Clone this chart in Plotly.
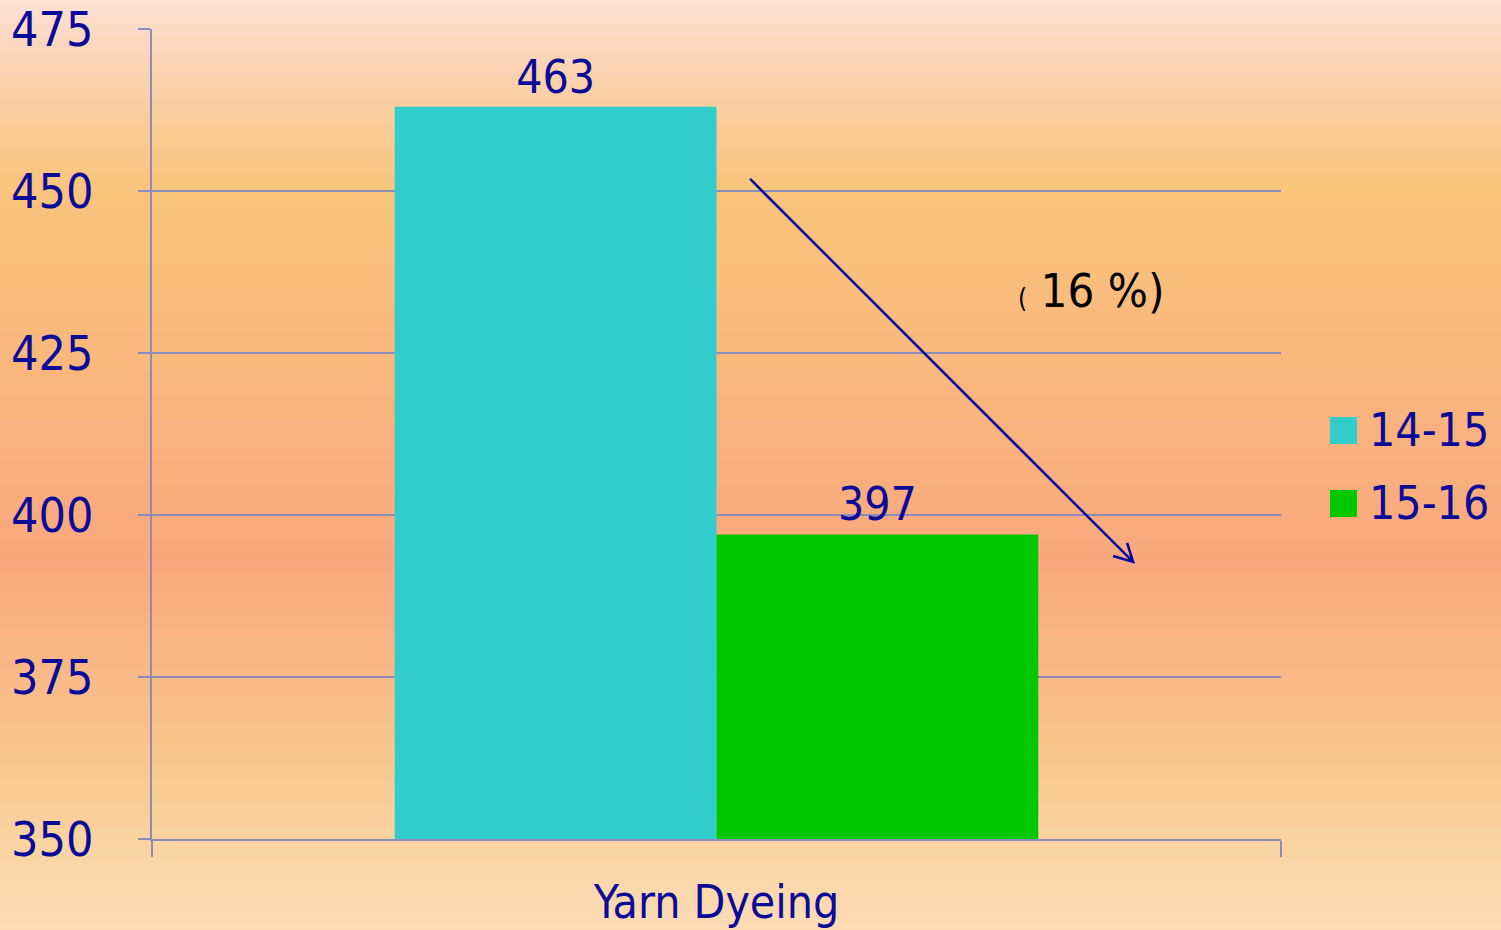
import plotly.graph_objects as go

# data
category = ['Yarn Dyeing']
series_names = ['14-15', '15-16']
values_1415 = [463]
values_1516 = [397]
change_label = '16 %'
y_ticks = [350, 375, 400, 425, 450, 475]

NAVY = '#0b0b99'
AXIS = '#8c8cba'
FONT = 'DejaVu Sans Condensed, DejaVu Sans, sans-serif'
bar_colors = ['#33cccc', '#00c800']

W, H = 1501, 930
L, R, T, B = 152, 220, 29, 91
pw, ph = W - L - R, H - T - B

fig = go.Figure()
for name, vals, col in zip(series_names, [values_1415, values_1516], bar_colors):
    fig.add_trace(go.Bar(
        x=category, y=vals, name=name,
        marker=dict(color=col, line=dict(width=0)),
        text=vals, textposition='outside', cliponaxis=False,
        textfont=dict(family=FONT, size=46, color=NAVY),
        showlegend=False,
    ))

# background gradient built from horizontal bands (pixel rows -> paper coords)
stops = [
    (0.00, (253, 225, 213)),
    (0.05, (252, 214, 188)),
    (0.20, (249, 196, 124)),
    (0.35, (249, 186, 124)),
    (0.60, (249, 168, 126)),
    (0.82, (249, 198, 142)),
    (0.90, (250, 211, 160)),
    (1.00, (252, 219, 182)),
]


def grad(f):
    for (f0, c0), (f1, c1) in zip(stops, stops[1:]):
        if f <= f1:
            t = (f - f0) / (f1 - f0)
            return 'rgb(%d,%d,%d)' % tuple(round(a + (b - a) * t) for a, b in zip(c0, c1))
    return 'rgb(%d,%d,%d)' % stops[-1][1]


shapes = []
band = 6
for py in range(0, H, band):
    y_top = (H - B - py) / ph
    y_bot = (H - B - py - band - 1) / ph
    shapes.append(dict(
        type='rect', xref='paper', yref='paper', layer='below',
        x0=-L / pw, x1=(W - L) / pw, y0=y_bot, y1=y_top,
        fillcolor=grad((py + band / 2) / H), line=dict(width=0),
    ))

# decline arrow (pixel offsets from the arrow tip)
shapes.append(dict(
    type='path', xref='x', yref='y', xsizemode='pixel', ysizemode='pixel',
    xanchor=0.369, yanchor=392.75,
    path='M-383,383 L0,0 M-6,19 L0,0 L-20,6',
    line=dict(color='#0000a0', width=2.5),
))

# manual legend
legend_rows = [(417, 444, 430), (490, 517, 503)]
annotations = []
for (top, bot, mid), name, col in zip(legend_rows, series_names, bar_colors):
    shapes.append(dict(
        type='rect', xref='paper', yref='paper',
        x0=(1330 - L) / pw, x1=(1357 - L) / pw,
        y0=(H - B - bot) / ph, y1=(H - B - top) / ph,
        fillcolor=col, line=dict(width=0),
    ))
    annotations.append(dict(
        xref='paper', yref='paper', x=(1367 - L) / pw, y=(H - B - mid) / ph,
        xanchor='left', yanchor='middle', showarrow=False, text=name,
        font=dict(family=FONT, size=46, color=NAVY),
    ))

annotations.append(dict(
    xref='paper', yref='paper', x=(1016 - L) / pw, y=(H - B - 291) / ph,
    xanchor='left', yanchor='middle', showarrow=False,
    text="<span style='font-size:26px'>(</span> " + change_label + ')',
    font=dict(family=FONT, size=47, color='black'),
))

fig.update_layout(
    width=W, height=H,
    margin=dict(l=L, r=R, t=T, b=B, autoexpand=False),
    paper_bgcolor='#fbd2a8',
    plot_bgcolor='rgba(0,0,0,0)',
    barmode='group', bargap=0.43, bargroupgap=0,
    shapes=shapes, annotations=annotations,
    showlegend=False,
    font=dict(family=FONT, color=NAVY),
    xaxis=dict(
        range=[-0.5, 0.5], showline=True, linecolor=AXIS, linewidth=2,
        ticks='outside', tickson='boundaries', ticklen=16, tickwidth=2, tickcolor=AXIS,
        tickfont=dict(family=FONT, size=46, color=NAVY), ticklabelstandoff=22,
        showgrid=False, zeroline=False, automargin=False,
    ),
    yaxis=dict(
        range=[350, 475], tickvals=y_ticks, showline=True, linecolor=AXIS, linewidth=2,
        ticks='outside', ticklen=12, tickwidth=2, tickcolor=AXIS,
        showgrid=True, gridcolor=AXIS, gridwidth=2, zeroline=False,
        tickfont=dict(family=FONT, size=48, color=NAVY), ticklabelstandoff=35,
        automargin=False,
    ),
)

fig.write_html('out.html', config={'displayModeBar': False},
               post_script="document.body.style.margin='0';")
